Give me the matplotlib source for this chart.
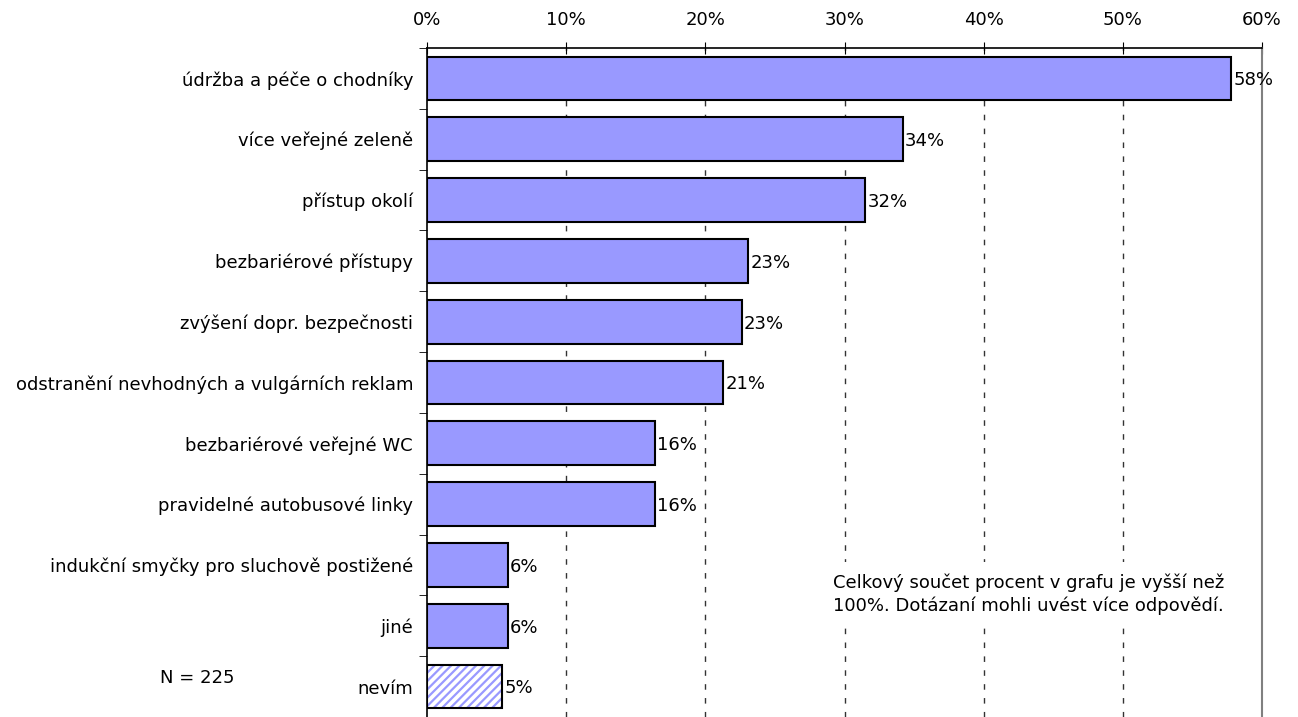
import matplotlib.pyplot as plt
import numpy as np

categories = ['údržba a péče o chodníky', 'více veřejné zeleně', 'přístup okolí',
              'bezbariérové přístupy', 'zvýšení dopr. bezpečnosti',
              'odstranění nevhodných a vulgárních reklam', 'bezbariérové veřejné WC',
              'pravidelné autobusové linky', 'indukční smyčky pro sluchově postižené',
              'jiné', 'nevím']
values = [57.8, 34.2, 31.5, 23.1, 22.6, 21.3, 16.4, 16.4, 5.8, 5.8, 5.4]
labels = ['58%', '34%', '32%', '23%', '23%', '21%', '16%', '16%', '6%', '6%', '5%']
ticks = [0, 10, 20, 30, 40, 50, 60]

plt.rcParams['font.family'] = ['DejaVu Sans']
plt.rcParams['hatch.linewidth'] = 1.6

fs = 13
fig = plt.figure(figsize=(12.98, 7.17), dpi=100)
ax = fig.add_axes([427 / 1298, 0.0, (1262 - 427) / 1298, 1 - 48 / 717])

y = np.arange(len(categories))
blue = '#9999ff'
for i, v in enumerate(values):
    if categories[i] == 'nevím':
        ax.barh(y[i], v, height=0.72, color='white', hatch='////', edgecolor=blue, linewidth=0, zorder=3)
        ax.barh(y[i], v, height=0.72, fill=False, edgecolor='black', linewidth=1.5, zorder=4)
    else:
        ax.barh(y[i], v, height=0.72, color=blue, edgecolor='black', linewidth=1.5, zorder=3)
    ax.text(v + 0.15, y[i] + 0.03, labels[i], va='center', ha='left', fontsize=fs, zorder=5)

ax.set_ylim(len(categories) - 0.5, -0.5)
ax.set_xlim(0, 60)
ax.xaxis.tick_top()
ax.set_xticks(ticks)
ax.set_xticklabels([f'{t}%' for t in ticks], fontsize=fs)
ax.tick_params(axis='x', direction='inout', length=8, pad=10)

ax.set_yticks(y)
ax.set_yticklabels(categories, fontsize=fs)
ax.set_yticks(np.arange(len(categories) + 1) - 0.5, minor=True)
ax.tick_params(axis='y', which='major', length=0, pad=10)
ax.tick_params(axis='y', which='minor', length=6, direction='out')

for t in ticks[1:-1]:
    ax.axvline(t, color='#333333', linestyle=(0, (4, 6)), linewidth=1, zorder=1)
ax.spines['right'].set_color('#808080')
ax.spines['right'].set_linewidth(1.5)
ax.spines['bottom'].set_visible(False)
ax.spines['top'].set_linewidth(1.2)
ax.spines['left'].set_linewidth(1.2)

fig.text(160 / 1298, 1 - 678 / 717, 'N = 225', fontsize=fs, va='center', ha='left')
fig.text(833 / 1298, 1 - 594 / 717,
         'Celkový součet procent v grafu je vyšší než\n100%. Dotázaní mohli uvést více odpovědí.',
         fontsize=fs, va='center', ha='left', linespacing=1.3, zorder=10,
         bbox=dict(facecolor='white', edgecolor='none', pad=8))

fig.savefig('out.png', dpi=100)
